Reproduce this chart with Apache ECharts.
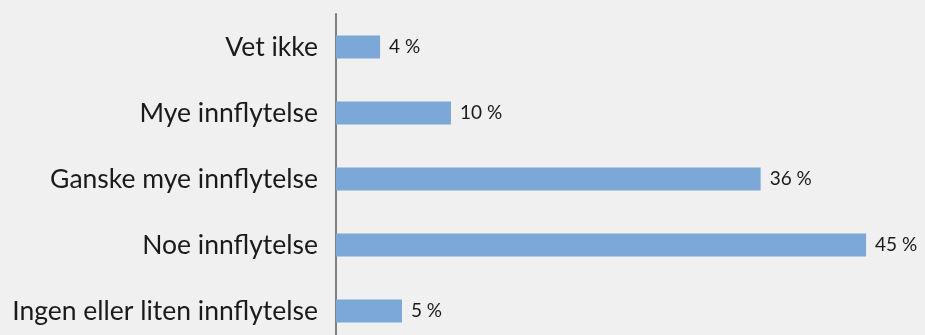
<!DOCTYPE html>
<html>
<head>
<meta charset="utf-8">
<script src="https://cdn.jsdelivr.net/npm/echarts@6/dist/echarts.min.js"></script>
<style>
html,body{margin:0;padding:0;background:#f0f0f0;}
#chart{width:925px;height:335px;}
</style>
</head>
<body>
<div id="chart"></div>
<script>
var categories = ["Vet ikke", "Mye innflytelse", "Ganske mye innflytelse", "Noe innflytelse", "Ingen eller liten innflytelse"];
var values = [3.74, 9.76, 36.05, 45.0, 5.6];
var valueLabels = ["4 %", "10 %", "36 %", "45 %", "5 %"];

var chart = echarts.init(document.getElementById('chart'), null, {renderer: 'canvas'});
chart.setOption({
  backgroundColor: '#f0f0f0',
  animation: false,
  grid: {left: 336, top: 14, width: 589, height: 330, containLabel: false, outerBoundsMode: 'none'},
  xAxis: {
    type: 'value', min: 0, max: 50,
    show: false
  },
  yAxis: {
    type: 'category', data: categories, inverse: true,
    axisLine: {show: true, lineStyle: {color: '#808080', width: 2}},
    axisTick: {show: false},
    axisLabel: {margin: 18, color: '#1a1a1a', fontSize: 26.5, fontFamily: 'Lato'}
  },
  series: [{
    type: 'bar', data: values, barWidth: 23,
    itemStyle: {color: '#7ba8d7'},
    label: {
      show: true, position: 'right', distance: 9,
      color: '#1a1a1a', fontSize: 19, fontFamily: 'Lato',
      formatter: function (p) { return valueLabels[p.dataIndex]; }
    }
  }]
});
</script>
</body>
</html>
